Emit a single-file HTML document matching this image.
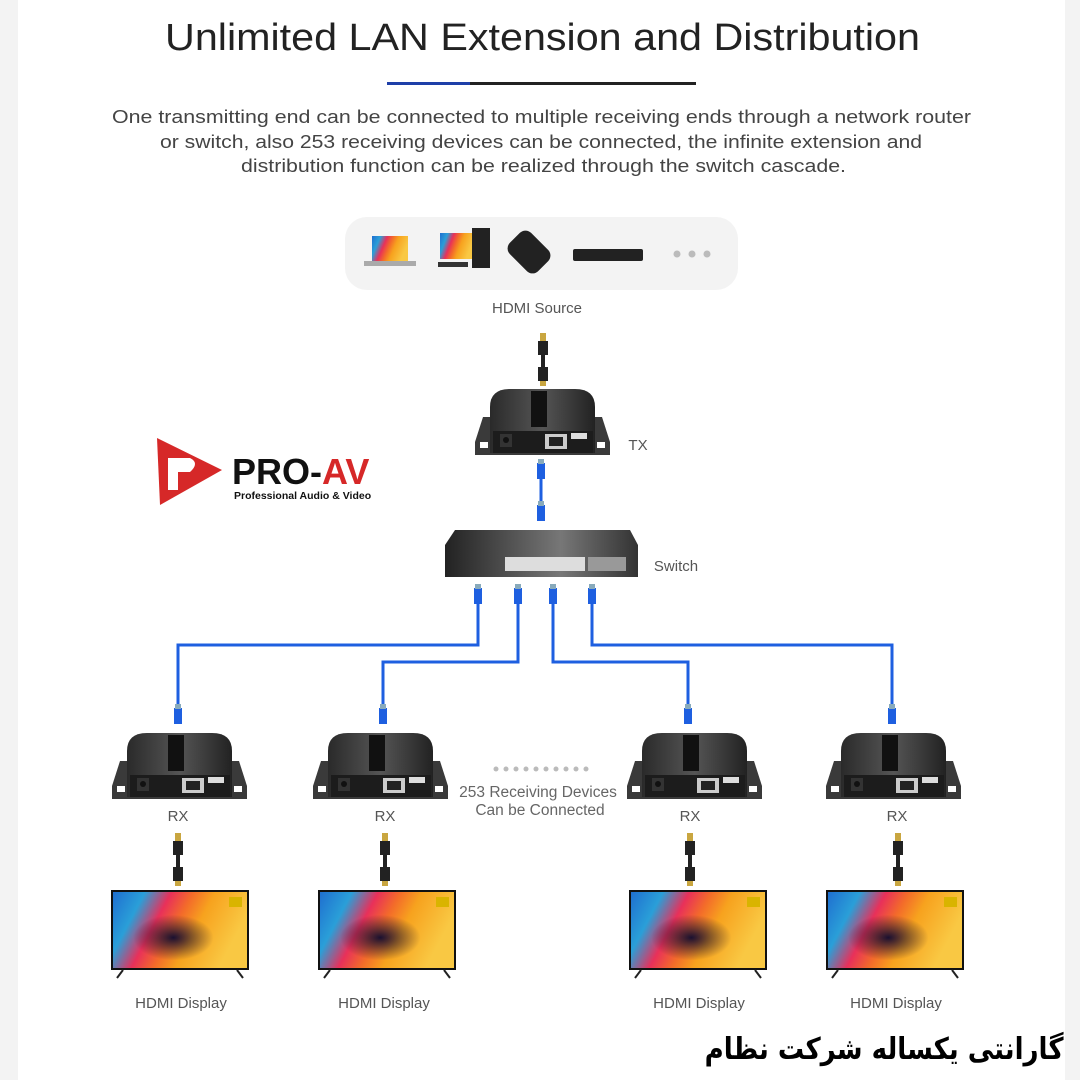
<!DOCTYPE html>
<html><head><meta charset="utf-8"><style>
html,body{margin:0;padding:0;background:#fff}
svg{display:block}
text{font-family:"Liberation Sans",sans-serif}
#fa{position:absolute;right:16px;top:1030px;font-family:"DejaVu Sans","Noto Sans CJK SC",sans-serif;font-size:30px;font-weight:bold;color:#000;direction:rtl;white-space:nowrap;line-height:40px;transform:scaleX(0.87);transform-origin:right center}
</style></head><body>
<svg width="1080" height="1080" viewBox="0 0 1080 1080" xmlns="http://www.w3.org/2000/svg">
<defs>
<linearGradient id="scr" x1="0" y1="0" x2="1" y2="0.3">
<stop offset="0" stop-color="#1f6fd0"/><stop offset="0.22" stop-color="#2a9fd8"/>
<stop offset="0.4" stop-color="#e8305a"/><stop offset="0.55" stop-color="#f36b2a"/>
<stop offset="0.7" stop-color="#f7a21e"/><stop offset="1" stop-color="#f9c843"/></linearGradient>
<radialGradient id="scr2" cx="0.45" cy="0.6" r="0.3"><stop offset="0" stop-color="#1a1030"/><stop offset="1" stop-color="#1a1030" stop-opacity="0"/></radialGradient>
<linearGradient id="body" x1="0" y1="0" x2="1" y2="0"><stop offset="0" stop-color="#2a2a2a"/><stop offset="0.5" stop-color="#555"/><stop offset="1" stop-color="#222"/></linearGradient>
<linearGradient id="sw" x1="0" y1="0" x2="1" y2="0"><stop offset="0" stop-color="#222"/><stop offset="0.6" stop-color="#777"/><stop offset="1" stop-color="#333"/></linearGradient>
<g id="dev">
<path d="M0 55 L8 30 L127 30 L135 55 L135 68 L0 68 Z" fill="#3a3a3a"/>
<rect x="5" y="55" width="8" height="6" fill="#fff"/><rect x="122" y="55" width="8" height="6" fill="#fff"/>
<path d="M15 66 L15 20 Q15 2 35 2 L100 2 Q120 2 120 20 L120 66 Z" fill="url(#body)"/>
<rect x="56" y="4" width="16" height="36" fill="#111"/>
<rect x="18" y="44" width="100" height="22" fill="#1c1c1c"/>
<rect x="25" y="47" width="12" height="13" fill="#333"/><circle cx="31" cy="53" r="3" fill="#111"/>
<rect x="70" y="47" width="22" height="15" fill="#ccc"/><rect x="74" y="50" width="14" height="9" fill="#222"/>
<rect x="96" y="46" width="16" height="6" fill="#ddd"/>
</g>
<g id="tv">
<rect x="0" y="0" width="138" height="80" fill="#111"/>
<rect x="2" y="2" width="134" height="76" fill="url(#scr)"/>
<rect x="2" y="2" width="134" height="76" fill="url(#scr2)"/>
<rect x="118" y="7" width="13" height="10" fill="#d9b400"/>
<path d="M12 80 L6 88 M126 80 L132 88" stroke="#222" stroke-width="2"/>
</g>
<g id="hdmi">
<rect x="-3" y="0" width="6" height="8" fill="#c9a640"/><rect x="-5" y="8" width="10" height="14" fill="#222"/>
<rect x="-2" y="22" width="4" height="12" fill="#222"/>
<rect x="-5" y="34" width="10" height="14" fill="#222"/><rect x="-3" y="48" width="6" height="5" fill="#c9a640"/>
</g>
<g id="rj"><rect x="-4" y="0" width="8" height="16" fill="#1e5fe0"/><rect x="-3" y="-4" width="6" height="5" fill="#8ab"/></g>
</defs>
<rect x="0" y="0" width="18" height="1080" fill="#f3f3f3"/>
<rect x="1065" y="0" width="15" height="1080" fill="#f3f3f3"/>

<text x="165" y="50" font-size="38" fill="#222" textLength="755" lengthAdjust="spacingAndGlyphs">Unlimited LAN Extension and Distribution</text>
<rect x="387" y="82" width="83" height="3" fill="#1e3fa8"/><rect x="470" y="82" width="226" height="3" fill="#222"/>
<g font-size="18" fill="#444">
<text x="112" y="123" textLength="859" lengthAdjust="spacingAndGlyphs">One transmitting end can be connected to multiple receiving ends through a network router</text>
<text x="160" y="148" textLength="762" lengthAdjust="spacingAndGlyphs">or switch, also 253 receiving devices can be connected, the infinite extension and</text>
<text x="241" y="172" textLength="605" lengthAdjust="spacingAndGlyphs">distribution function can be realized through the switch cascade.</text>
</g>

<rect x="345" y="217" width="393" height="73" rx="22" fill="#f3f3f3"/>
<rect x="372" y="236" width="36" height="25" fill="url(#scr)"/><rect x="364" y="261" width="52" height="5" fill="#aaa"/>
<rect x="440" y="233" width="33" height="26" fill="url(#scr)"/><rect x="472" y="228" width="18" height="40" fill="#222"/><rect x="438" y="262" width="30" height="5" fill="#333"/>
<rect x="509" y="237" width="40" height="30" rx="8" fill="#222" transform="rotate(45 529 252)"/>
<rect x="573" y="249" width="70" height="12" rx="2" fill="#222"/>
<circle cx="677" cy="254" r="3.5" fill="#bbb"/><circle cx="692" cy="254" r="3.5" fill="#bbb"/><circle cx="707" cy="254" r="3.5" fill="#bbb"/>
<text x="537" y="313" font-size="15" fill="#555" text-anchor="middle">HDMI Source</text>
<use href="#hdmi" x="543" y="333"/>
<use href="#dev" x="475" y="387"/>
<text x="638" y="450" font-size="15" fill="#555" text-anchor="middle">TX</text>

<path d="M541 465 L541 520" stroke="#1e5fe0" stroke-width="3"/>
<use href="#rj" x="541" y="463"/><use href="#rj" x="541" y="505"/>

<path d="M455 530 L630 530 L638 545 L638 577 L445 577 L445 545 Z" fill="url(#sw)"/>
<rect x="505" y="557" width="80" height="14" fill="#ddd"/><rect x="588" y="557" width="38" height="14" fill="#999"/>
<text x="676" y="571" font-size="15" fill="#555" text-anchor="middle">Switch</text>

<g fill="none" stroke="#1e5fe0" stroke-width="3">
<path d="M478 590 L478 645 L178 645 L178 720"/>
<path d="M518 590 L518 662 L383 662 L383 720"/>
<path d="M553 590 L553 662 L688 662 L688 720"/>
<path d="M592 590 L592 645 L892 645 L892 720"/>
</g>
<use href="#rj" x="478" y="588"/><use href="#rj" x="518" y="588"/><use href="#rj" x="553" y="588"/><use href="#rj" x="592" y="588"/>
<use href="#rj" x="178" y="708"/><use href="#rj" x="383" y="708"/><use href="#rj" x="688" y="708"/><use href="#rj" x="892" y="708"/>

<use href="#dev" x="112" y="731"/><use href="#dev" x="313" y="731"/><use href="#dev" x="627" y="731"/><use href="#dev" x="826" y="731"/>
<g font-size="15" fill="#555" text-anchor="middle">
<text x="178" y="821">RX</text><text x="385" y="821">RX</text><text x="690" y="821">RX</text><text x="897" y="821">RX</text>
</g>
<g fill="#bbb"><circle cx="496" cy="769" r="2.5"/><circle cx="506" cy="769" r="2.5"/><circle cx="516" cy="769" r="2.5"/><circle cx="526" cy="769" r="2.5"/><circle cx="536" cy="769" r="2.5"/><circle cx="546" cy="769" r="2.5"/><circle cx="556" cy="769" r="2.5"/><circle cx="566" cy="769" r="2.5"/><circle cx="576" cy="769" r="2.5"/><circle cx="586" cy="769" r="2.5"/></g>
<text x="538" y="797" font-size="15.5" fill="#666" text-anchor="middle">253 Receiving Devices</text>
<text x="540" y="815" font-size="15.5" fill="#666" text-anchor="middle">Can be Connected</text>

<use href="#hdmi" x="178" y="833"/><use href="#hdmi" x="385" y="833"/><use href="#hdmi" x="690" y="833"/><use href="#hdmi" x="898" y="833"/>
<use href="#tv" x="111" y="890"/><use href="#tv" x="318" y="890"/><use href="#tv" x="629" y="890"/><use href="#tv" x="826" y="890"/>
<g font-size="15" fill="#555" text-anchor="middle">
<text x="181" y="1008">HDMI Display</text><text x="384" y="1008">HDMI Display</text><text x="699" y="1008">HDMI Display</text><text x="896" y="1008">HDMI Display</text>
</g>

<path d="M157 438 L222 470 L160 505 Z" fill="#d62828"/>
<path d="M168 458 L190 458 Q200 463 190 472 L178 472 L178 490 L168 490 Z" fill="#fff"/>
<text x="232" y="484" font-size="36" font-weight="bold" fill="#111">PRO-<tspan fill="#d62828">AV</tspan></text>
<text x="234" y="499" font-size="10.5" font-weight="bold" fill="#111">Professional Audio &amp; Video</text>
</svg>
<div id="fa">گارانتی یکساله شرکت نظام</div>
</body></html>
